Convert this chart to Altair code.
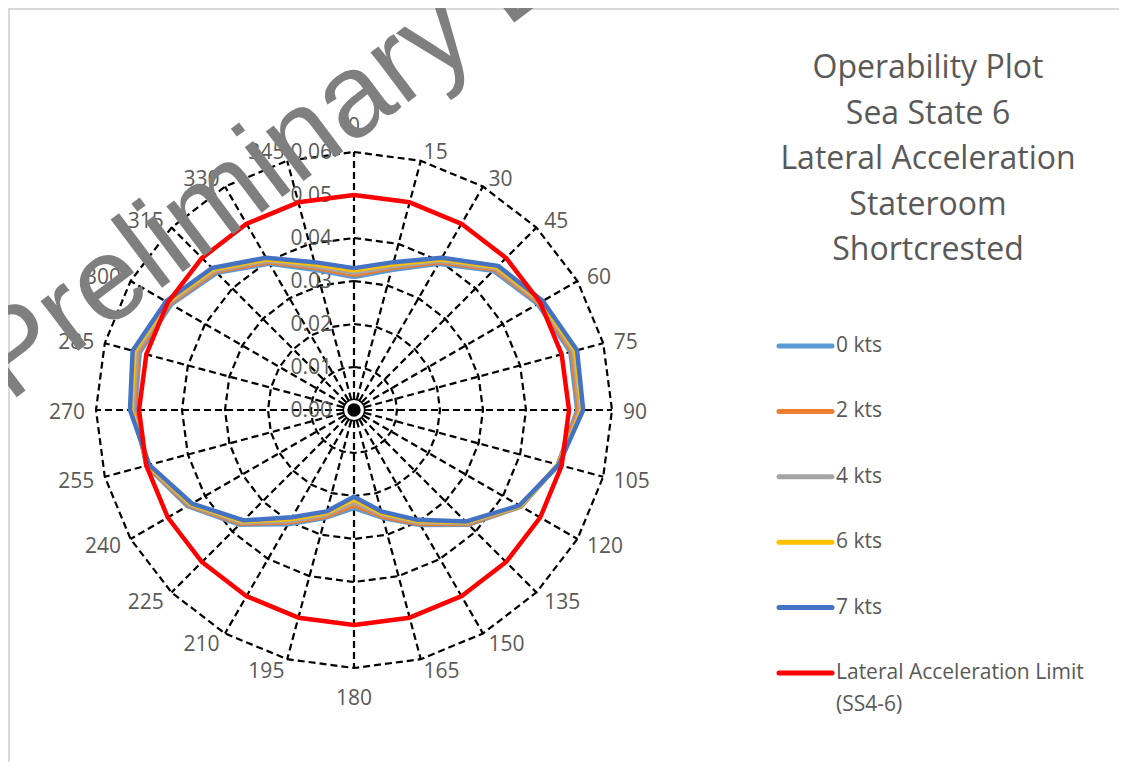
import altair as alt
import pandas as pd

# ---------------- data ----------------
angles = [0, 15, 30, 45, 60, 75, 90, 105, 120, 135, 150, 165,
          180, 195, 210, 225, 240, 255, 270, 285, 300, 315, 330, 345]
angle_labels = [str(a) for a in angles]

kts0 = [0.0309, 0.0337, 0.0393, 0.0458, 0.0493, 0.0521, 0.0519, 0.0491, 0.0449, 0.0377, 0.0309, 0.0260,
        0.0228, 0.0260, 0.0307, 0.0377, 0.0447, 0.0500, 0.0509, 0.0516, 0.0491, 0.0451, 0.0393, 0.0337]
kts2 = [0.0314, 0.0342, 0.0397, 0.0462, 0.0497, 0.0525, 0.0522, 0.0491, 0.0448, 0.0375, 0.0306, 0.0257,
        0.0222, 0.0257, 0.0302, 0.0374, 0.0444, 0.0499, 0.0512, 0.0520, 0.0495, 0.0455, 0.0397, 0.0342]
kts4 = [0.0319, 0.0346, 0.0401, 0.0466, 0.0500, 0.0529, 0.0526, 0.0492, 0.0447, 0.0372, 0.0302, 0.0252,
        0.0215, 0.0252, 0.0298, 0.0370, 0.0441, 0.0497, 0.0515, 0.0524, 0.0498, 0.0459, 0.0401, 0.0346]
kts6 = [0.0325, 0.0351, 0.0405, 0.0470, 0.0504, 0.0533, 0.0530, 0.0492, 0.0446, 0.0369, 0.0298, 0.0248,
        0.0208, 0.0248, 0.0293, 0.0366, 0.0438, 0.0495, 0.0518, 0.0529, 0.0502, 0.0463, 0.0405, 0.0351]
kts7 = [0.0330, 0.0356, 0.0409, 0.0474, 0.0507, 0.0537, 0.0533, 0.0493, 0.0444, 0.0367, 0.0295, 0.0244,
        0.0202, 0.0244, 0.0288, 0.0363, 0.0435, 0.0493, 0.0521, 0.0533, 0.0505, 0.0467, 0.0409, 0.0356]
limit = [0.05, 0.05, 0.05, 0.05, 0.05, 0.05, 0.05, 0.05, 0.05, 0.05, 0.05, 0.05,
         0.05, 0.05, 0.05, 0.05, 0.05, 0.05, 0.05, 0.05, 0.05, 0.05, 0.05, 0.05]

series_names = ["0 kts", "2 kts", "4 kts", "6 kts", "7 kts", "Lateral Acceleration Limit (SS4-6)"]
legend_labels = ["0 kts", "2 kts", "4 kts", "6 kts", "7 kts",
                 ["\u2002Lateral Acceleration Limit", "(SS4-6)"]]
series_values = [kts0, kts2, kts4, kts6, kts7, limit]
series_colors = ["#5B9BD5", "#ED7D31", "#A5A5A5", "#FFC000", "#4472C4", "#FF0000"]
series_widths = [4.5, 4.5, 4.5, 4.5, 6.5, 6]

radial_ticks = [0.00, 0.01, 0.02, 0.03, 0.04, 0.05, 0.06]
radial_tick_labels = ["0.00", "0.01", "0.02", "0.03", "0.04", "0.05", "0.06"]

title_lines = ["Operability Plot", "Sea State 6", "Lateral Acceleration", "Stateroom", "Shortcrested"]
watermark = "Preliminary D"

# ---------------- tables ----------------
rows = []
for name, vals in zip(series_names, series_values):
    closed_a = angles + [360]
    closed_v = vals + [vals[0]]
    for i, (a, v) in enumerate(zip(closed_a, closed_v)):
        rows.append({"series": name, "angle": a, "r": v, "order": i})
lines_df = pd.DataFrame(rows)

grid_rows = []
for t in radial_ticks[1:]:
    for i, a in enumerate(angles + [360]):
        grid_rows.append({"ring": t, "angle": a, "r": t, "order": i})
grid_df = pd.DataFrame(grid_rows)

spoke_df = pd.DataFrame({"angle": angles, "r": [radial_ticks[-1]] * len(angles)})
alabel_df = pd.DataFrame({"angle": angles, "label": angle_labels})
tick_df = pd.DataFrame({"r": radial_ticks, "label": radial_tick_labels})
center_df = pd.DataFrame({"x": [0.0], "y": [0.0]})
legend_df = pd.DataFrame({"series": series_names, "idx": list(range(len(series_names))),
                          "label": legend_labels})

# ---------------- scales ----------------
W, H = 1111, 754
PX = 258 / 0.06          # pixels per unit radius
CX, CY = 346, 402        # chart-space centre
xs = alt.Scale(domain=[-CX / PX, (W - CX) / PX], nice=False, zero=False)
ys = alt.Scale(domain=[-(H - CY) / PX, CY / PX], nice=False, zero=False)
color_scale = alt.Scale(domain=series_names, range=series_colors)
FONT = "Open Sans"
GREY = "#595959"

def X(f):
    return alt.X(f, type="quantitative", scale=xs, axis=None)

def Y(f):
    return alt.Y(f, type="quantitative", scale=ys, axis=None)

rad = "PI / 180"
DASH = [7, 4]

border_top = alt.Chart(center_df).mark_rule(color="#d9d9d9", strokeWidth=2).encode(
    x=alt.value(0), x2=alt.value(W), y=alt.value(1))
border_left = alt.Chart(center_df).mark_rule(color="#d9d9d9", strokeWidth=2).encode(
    x=alt.value(1), y=alt.value(0), y2=alt.value(H))

grid = alt.Chart(grid_df).transform_calculate(
    x=f"datum.r * sin(datum.angle * {rad})",
    y=f"datum.r * cos(datum.angle * {rad})",
).mark_line(color="black", strokeWidth=2.2, strokeDash=DASH).encode(
    x=X("x"), y=Y("y"), detail="ring:N", order="order:Q")

spokes = alt.Chart(spoke_df).transform_calculate(
    x0="0", y0="0",
    x=f"datum.r * sin(datum.angle * {rad})",
    y=f"datum.r * cos(datum.angle * {rad})",
).mark_rule(color="black", strokeWidth=2.2, strokeDash=DASH).encode(
    x=X("x0"), y=Y("y0"), x2="x:Q", y2="y:Q")

center_white = alt.Chart(center_df).mark_point(filled=True, color="white", opacity=1, size=380).encode(
    x=X("x"), y=Y("y"))
center_ring = alt.Chart(center_df).mark_point(filled=False, color="black", strokeWidth=1.5, opacity=1, size=460).encode(
    x=X("x"), y=Y("y"))
center_dot = alt.Chart(center_df).mark_point(filled=True, color="black", opacity=1, size=180).encode(
    x=X("x"), y=Y("y"))

# category labels sit just outside the outer ring, pushed out by half their box
angle_text = alt.Chart(alabel_df).transform_calculate(
    s=f"sin(datum.angle * {rad})",
    c=f"cos(datum.angle * {rad})",
    sg="datum.s > 0.01 ? 1 : (datum.s < -0.01 ? -1 : 0)",
    x=f"(259 * datum.s + datum.sg * length(datum.label) * 6 + 10 * datum.s) / {PX}",
    y=f"(269 * datum.c + (abs(datum.s) < 0.01 ? 17 * datum.c : 0) - 2.5) / {PX}",
).mark_text(font=FONT, fontSize=21, color=GREY, align="center", baseline="middle").encode(
    x=X("x"), y=Y("y"), text="label:N")

tick_text = alt.Chart(tick_df).transform_calculate(x0="0").mark_text(
    font=FONT, fontSize=21, color=GREY, align="right", baseline="middle", dx=-22, dy=1).encode(
    x=X("x0"), y=Y("r"), text="label:N")

series = alt.Chart(lines_df).transform_calculate(
    x=f"datum.r * sin(datum.angle * {rad})",
    y=f"datum.r * cos(datum.angle * {rad})",
).mark_line(strokeJoin="round").encode(
    x=X("x"), y=Y("y"),
    color=alt.Color("series:N", scale=color_scale, legend=None),
    strokeWidth=alt.StrokeWidth("series:N", scale=alt.Scale(domain=series_names, range=series_widths), legend=None),
    order="order:Q",
)

# legend: one row per series, placed by an index scale
leg_y = alt.Y("idx:Q", scale=alt.Scale(domain=[0, 5], range=[338, 665], nice=False, zero=False), axis=None)
legend_sym = alt.Chart(legend_df).mark_rule(strokeWidth=5, strokeCap="round").encode(
    x=alt.value(771), x2=alt.value(824), y=leg_y,
    color=alt.Color("series:N", scale=color_scale, legend=None))
legend_txt = alt.Chart(legend_df).mark_text(
    font=FONT, fontSize=21, color=GREY, align="left", baseline="middle", lineHeight=32).encode(
    x=alt.value(828), y=leg_y, text="label")

title = alt.Chart(center_df).mark_text(
    font=FONT, fontSize=32, color=GREY, align="center", baseline="middle", lineHeight=45.5).encode(
    x=alt.value(920), y=alt.value(60), text=alt.value(title_lines))

mark_wm = alt.Chart(center_df).mark_text(
    font="Liberation Sans", fontSize=118, color="#7f7f7f", align="left", baseline="alphabetic", angle=323).encode(
    x=alt.value(1), y=alt.value(395), text=alt.value(watermark))

chart = alt.layer(
    border_top, border_left, grid, spokes, center_white, center_ring, center_dot,
    angle_text, tick_text, series, legend_sym, legend_txt, title, mark_wm,
).resolve_scale(y="independent").properties(
    width=W, height=H, autosize=alt.AutoSizeParams(type="none"), padding=0, background="white",
).configure_view(strokeWidth=0)

chart.save("out.html", embed_options={"renderer": "svg", "actions": False})
